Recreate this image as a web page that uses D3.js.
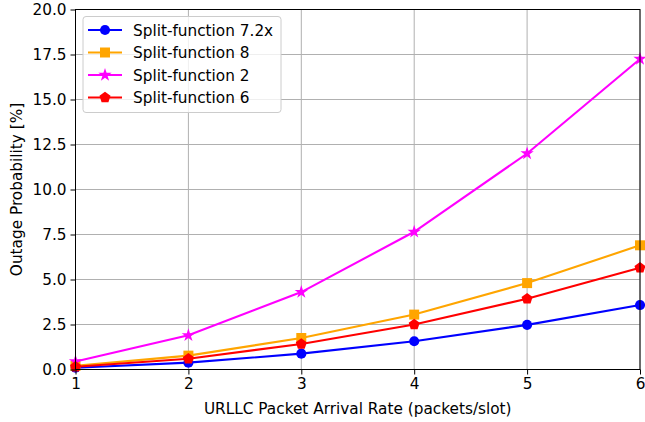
<!DOCTYPE html>
<html>
<head>
<meta charset="utf-8">
<script src="https://cdn.jsdelivr.net/npm/d3@7"></script>
<style>
  html, body { margin: 0; padding: 0; background: #fff; }
  svg { display: block; }
  text { font-family: "DejaVu Sans", sans-serif; }
</style>
</head>
<body>
<svg id="chart" width="645" height="422"></svg>
<script>
// Arrival rates (packets/slot)
const arrivalRates = [1, 2, 3, 4, 5, 6];

// Outage probability [%] per split option
const split72x = [0.10, 0.38, 0.88, 1.57, 2.48, 3.58];
const split8   = [0.20, 0.77, 1.75, 3.05, 4.80, 6.90];
const split2   = [0.45, 1.90, 4.30, 7.65, 12.00, 17.25];
const split6   = [0.15, 0.60, 1.42, 2.50, 3.93, 5.65];

const seriesNames = ["Split-function 7.2x", "Split-function 8", "Split-function 2", "Split-function 6"];
const seriesColors = ["#0000ff", "#ffa500", "#ff00ff", "#ff0000"];
const seriesMarkers = ["circle", "square", "star", "pentagon"];
const seriesValues = [split72x, split8, split2, split6];

const xTicks = [1, 2, 3, 4, 5, 6];
const yTicks = [0, 2.5, 5, 7.5, 10, 12.5, 15, 17.5, 20];

const FS = 15.3;
const svg = d3.select("#chart");
const margin = { left: 75.5, right: 5, top: 9.5, bottom: 52.5 };
const W = 645, H = 422;

const x = d3.scaleLinear().domain([1, 6]).range([margin.left, W - margin.right]);
const y = d3.scaleLinear().domain([0, 20]).range([H - margin.bottom, margin.top]);

// grid
const grid = svg.append("g");
grid.selectAll("line.gx").data(xTicks).enter().append("line")
  .attr("x1", d => x(d)).attr("x2", d => x(d))
  .attr("y1", y(0)).attr("y2", y(20))
  .attr("stroke", "#b0b0b0").attr("stroke-width", 1);
grid.selectAll("line.gy").data(yTicks).enter().append("line")
  .attr("y1", d => y(d)).attr("y2", d => y(d))
  .attr("x1", x(1)).attr("x2", x(6))
  .attr("stroke", "#b0b0b0").attr("stroke-width", 1);

// pentagon path generator
function pentagon(r) {
  const pts = d3.range(5).map(i => {
    const a = -Math.PI / 2 + i * 2 * Math.PI / 5;
    return [r * Math.cos(a), r * Math.sin(a)];
  });
  return "M" + pts.map(p => p.join(",")).join("L") + "Z";
}
function markerPath(kind) {
  if (kind === "circle") return d3.symbol(d3.symbolCircle, 80)();
  if (kind === "square") return d3.symbol(d3.symbolSquare, 100)();
  if (kind === "star") return d3.symbol(d3.symbolStar, 55)();
  return pentagon(5.8);
}

const line = d3.line().x((d, i) => x(arrivalRates[i])).y(d => y(d));

const plot = svg.append("g");
seriesValues.forEach((vals, k) => {
  plot.append("path").datum(vals)
    .attr("d", line)
    .attr("fill", "none")
    .attr("stroke", seriesColors[k])
    .attr("stroke-width", 2.1);
  plot.selectAll(null).data(vals).enter().append("path")
    .attr("d", markerPath(seriesMarkers[k]))
    .attr("transform", (d, i) => `translate(${x(arrivalRates[i])},${y(d)})`)
    .attr("fill", seriesColors[k]);
});

// axes frame
svg.append("rect")
  .attr("x", x(1)).attr("y", y(20))
  .attr("width", x(6) - x(1)).attr("height", y(0) - y(20))
  .attr("fill", "none").attr("stroke", "#000").attr("stroke-width", 1);

const xAxis = svg.append("g").attr("transform", `translate(0,${y(0)})`)
  .call(d3.axisBottom(x).tickValues(xTicks).tickFormat(d3.format("d")).tickSize(5).tickPadding(4));
const yAxis = svg.append("g").attr("transform", `translate(${x(1)},0)`)
  .call(d3.axisLeft(y).tickValues(yTicks).tickFormat(d3.format(".1f")).tickSize(5).tickPadding(4));
[xAxis, yAxis].forEach(a => {
  a.select(".domain").remove();
  a.selectAll("text").attr("font-size", FS).attr("fill", "#000").style("font-family", "DejaVu Sans");
  a.selectAll("line").attr("stroke", "#000");
});

svg.append("text")
  .attr("x", (x(1) + x(6)) / 2).attr("y", 414)
  .attr("text-anchor", "middle").attr("font-size", FS)
  .text("URLLC Packet Arrival Rate (packets/slot)");
svg.append("text")
  .attr("transform", `translate(22,${(y(0) + y(20)) / 2}) rotate(-90)`)
  .attr("text-anchor", "middle").attr("font-size", FS)
  .text("Outage Probability [%]");

// legend
const lg = svg.append("g").attr("transform", "translate(83,16.5)");
lg.append("rect").attr("x", 0).attr("y", 0).attr("width", 198).attr("height", 96)
  .attr("rx", 3).attr("fill", "#fff").attr("fill-opacity", 0.8)
  .attr("stroke", "#cccccc").attr("stroke-width", 1);
seriesNames.forEach((name, k) => {
  const cy = 13.5 + k * 22.5;
  lg.append("line").attr("x1", 5).attr("x2", 39).attr("y1", cy).attr("y2", cy)
    .attr("stroke", seriesColors[k]).attr("stroke-width", 2.1);
  lg.append("path").attr("d", markerPath(seriesMarkers[k]))
    .attr("transform", `translate(22,${cy})`).attr("fill", seriesColors[k]);
  lg.append("text").attr("x", 50).attr("y", cy + 5.5).attr("font-size", FS).text(name);
});
</script>
</body>
</html>
